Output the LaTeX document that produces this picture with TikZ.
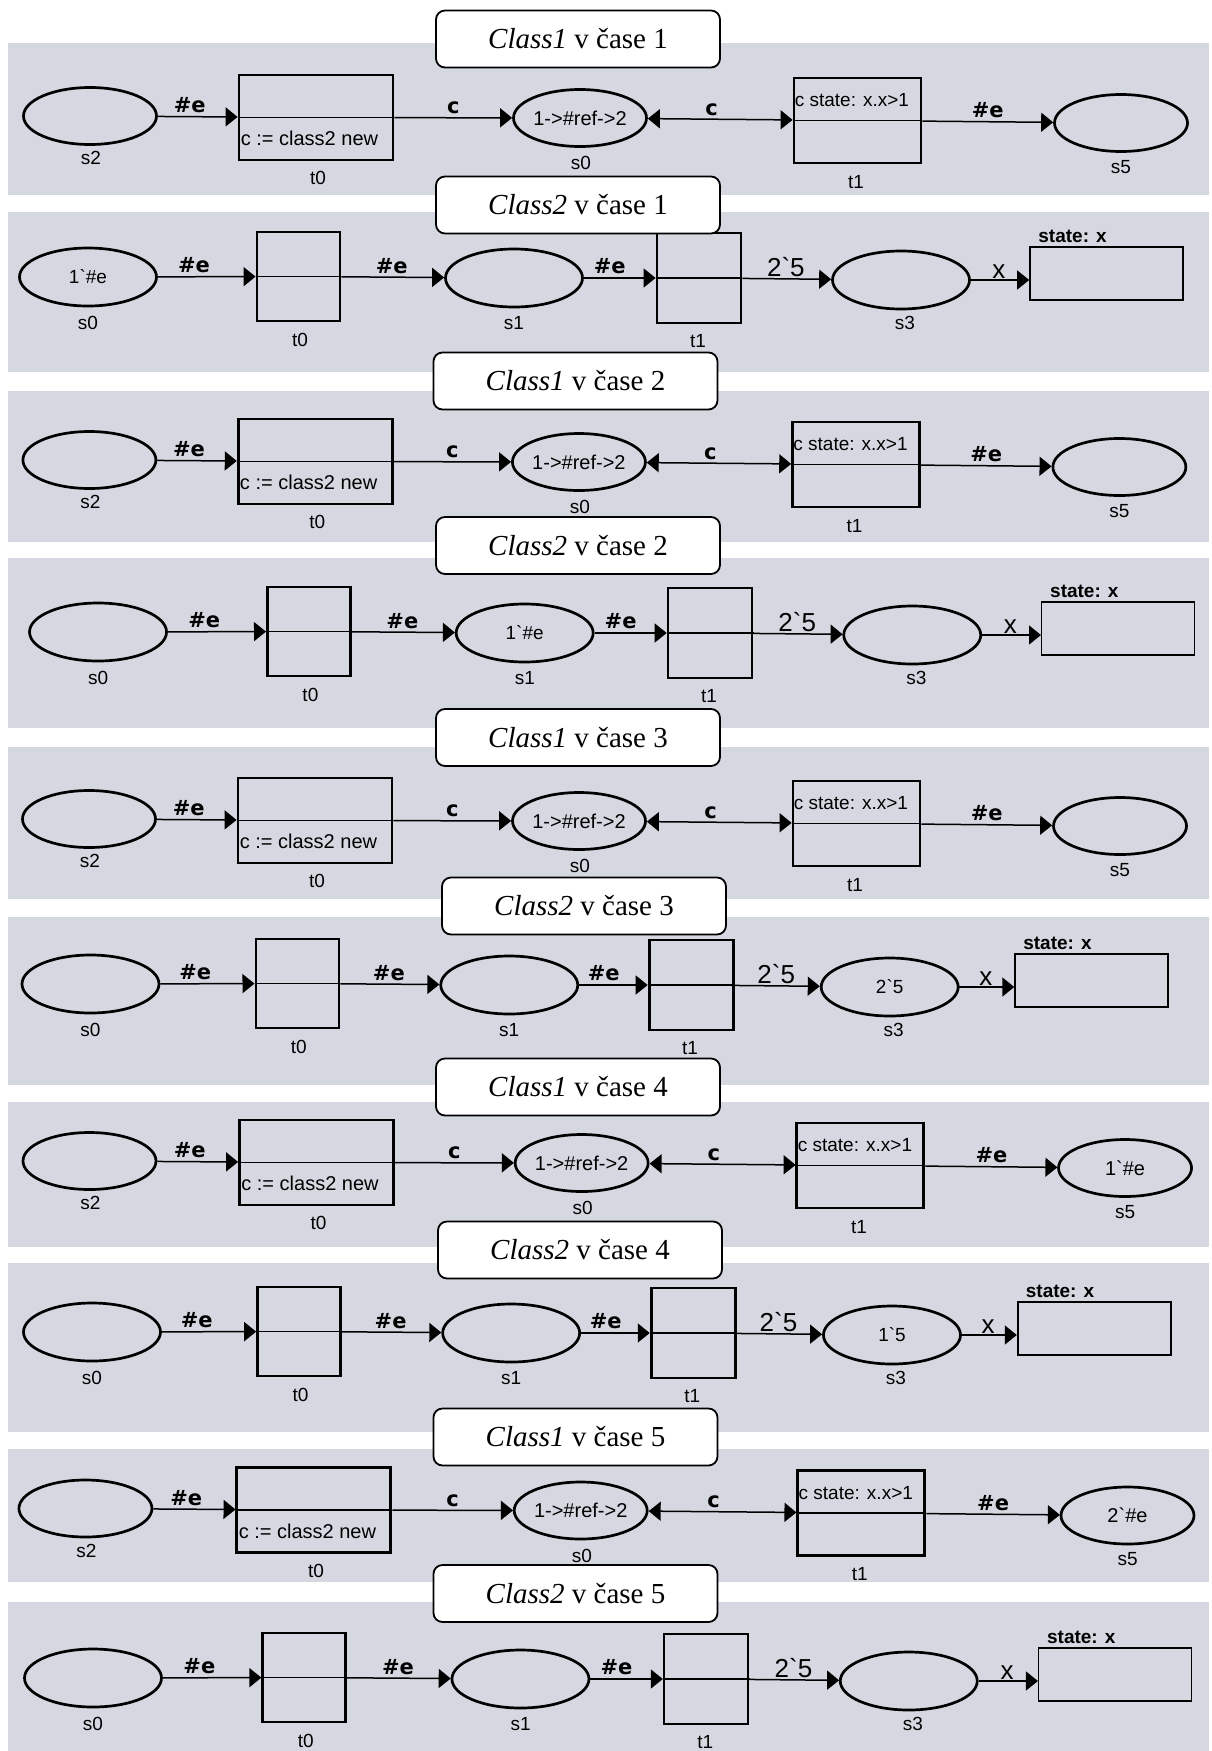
\documentclass[tikz,border=0pt]{standalone}
\usepackage{fontspec}
\setmainfont{Liberation Serif}
\newfontfamily\sansf{Liberation Sans}
\newfontfamily\djf{DejaVu Sans}
\usetikzlibrary{shapes.geometric,arrows.meta,calc}
\definecolor{panelgray}{RGB}{213,216,224}
\tikzset{
  pl/.style={ellipse,draw,line width=2.7pt,minimum width=133pt,minimum height=57pt,inner sep=0pt,font=\sansf\fontsize{20}{20}\selectfont},
  plB/.style={pl,minimum width=137pt,minimum height=58pt,font=\sansf\fontsize{19}{19}\selectfont},
  tr/.style={rectangle,draw,line width=2.8pt,inner sep=0pt},
  stbox/.style={rectangle,draw,line width=1.6pt,inner sep=0pt},
  midl/.style={line width=1.4pt},
  conn/.style={line width=1.5pt,-{Triangle[length=12pt,width=19pt]}},
  biconn/.style={line width=1.5pt,{Triangle[length=12pt,width=19pt]}-{Triangle[length=12pt,width=19pt]}},
  nm/.style={font=\sansf\fontsize{19}{19}\selectfont,inner sep=0pt},
  intxt/.style={inner sep=0pt,anchor=west},
  lab/.style={font=\djf\bfseries\fontsize{21}{21}\selectfont,inner sep=0pt,above=3pt},
  labn/.style={font=\sansf\fontsize{26}{26}\selectfont,inner sep=0pt,above=1pt},
  stl/.style={font=\sansf\bfseries\fontsize{19}{19}\selectfont,inner sep=0pt,anchor=base west},
  ttl/.style={draw,line width=1.8pt,fill=white,rounded corners=9pt,minimum width=284pt,minimum height=57pt,inner sep=0pt,font=\fontsize{29}{29}\selectfont}
}
% #1 id, #2 xshift, #3 xscale, #4 yshift, #5 token of s5
\newcommand{\classone}[5]{%
\begin{scope}[shift={(#2,#4)},xscale=#3]
  \node[pl] (#1s2) at (90,116) {};
  \node[tr,minimum width=154pt,minimum height=85pt] (#1t0) at (316,117.5) {};
  \node[pl] (#1s0) at (580,118) {1->\#ref->2};
  \node[tr,minimum width=127pt,minimum height=85pt] (#1t1) at (857.5,120.5) {};
  \node[pl] (#1s5) at (1121,123) {#5};
  \draw[midl] (#1t0.west) -- (#1t0.east);
  \draw[midl] (#1t1.west) -- (#1t1.east);
  \node[intxt,font=\sansf\fontsize{20}{20}\selectfont] (#1t0txt) at ($(#1t0.west)+(3,21)$) {c := class2 new};
  \node[intxt,font=\sansf\fontsize{19}{19}\selectfont] (#1t1txt) at ($(#1t1.west)+(2,-20)$) {c state: x.x>1};
  \node[nm] (#1s2l) at ($(#1s2)+(1,42)$) {s2};
  \node[nm] (#1t0l) at ($(#1t0)+(2,60.5)$) {t0};
  \node[nm] (#1s0l) at ($(#1s0)+(1,45)$) {s0};
  \node[nm] (#1t1l) at ($(#1t1)+(-1.5,61.5)$) {t1};
  \node[nm] (#1s5l) at ($(#1s5)+(0,44)$) {s5};
  \draw[conn] (#1s2) -- node[lab,pos=0.40] {\#e} (#1t0);
  \draw[conn] (#1t0) -- node[lab,pos=0.5] {c} (#1s0);
  \draw[biconn] (#1s0) -- node[lab,pos=0.44] {c} (#1t1);
  \draw[conn] (#1t1) -- node[lab,pos=0.5] {\#e} (#1s5);
\end{scope}}
% #1 id, #2 xshift, #3 xscale, #4 yshift, #5 s0 token, #6 s1 token, #7 s3 token
\newcommand{\classtwo}[7]{%
\begin{scope}[shift={(#2,#4)},xscale=#3]
  \node[plB] (#1s0) at (88,277) {#5};
  \node[tr,minimum width=83pt,minimum height=89pt] (#1t0) at (298.5,276.5) {};
  \node[plB] (#1s1) at (514,278) {#6};
  \node[tr,minimum width=84pt,minimum height=90pt] (#1t1) at (699,278) {};
  \node[plB] (#1s3) at (901,280) {#7};
  \node[stbox,minimum width=153pt,minimum height=53pt] (#1st) at (1106.5,273.5) {};
  \draw[midl] (#1t0.west) -- (#1t0.east);
  \draw[midl] (#1t1.west) -- (#1t1.east);
  \node[nm] (#1s0l) at ($(#1s0)+(0,46)$) {s0};
  \node[nm] (#1t0l) at ($(#1t0)+(1.5,63)$) {t0};
  \node[nm] (#1s1l) at ($(#1s1)+(0,45)$) {s1};
  \node[nm] (#1t1l) at ($(#1t1)+(-1,63)$) {t1};
  \node[nm] (#1s3l) at ($(#1s3)+(4,43)$) {s3};
  \node[stl] (#1stl) at ($(#1st.north west)+(9,-4)$) {state: x};
  \draw[conn] (#1s0) -- node[lab,pos=0.37] {\#e} (#1t0);
  \draw[conn] (#1t0) -- node[lab,pos=0.49] {\#e} (#1s1);
  \draw[conn] (#1s1) -- node[lab,pos=0.36] {\#e} (#1t1);
  \draw[conn] (#1t1) -- node[labn,pos=0.49] {2\textasciigrave 5} (#1s3);
  \draw[conn] (#1s3) -- node[labn,pos=0.48] {x} (#1s3 -| #1st.west);
\end{scope}}
\begin{document}
\begin{tikzpicture}[x=1pt,y=-1pt]
  \fill[white] (0,0) rectangle (1212,1751);
  \useasboundingbox (0,0) rectangle (1212,1751);
  % panels background
  \fill[panelgray] (8,43) rectangle (1209,195);
  \fill[panelgray] (8,212) rectangle (1209,372);
  \fill[panelgray] (8,391) rectangle (1209,542);
  \fill[panelgray] (8,558) rectangle (1209,728);
  \fill[panelgray] (8,747) rectangle (1209,899);
  \fill[panelgray] (8,917) rectangle (1209,1085);
  \fill[panelgray] (8,1102) rectangle (1209,1247);
  \fill[panelgray] (8,1263) rectangle (1209,1432);
  \fill[panelgray] (8,1449) rectangle (1209,1582);
  \fill[panelgray] (8,1602) rectangle (1209,1751);
  % nets
  \classone{a}{0}{1}{0}{}
  \classtwo{b}{0}{1}{0}{1\textasciigrave\#e}{}{}
  \classone{c}{-0.5}{0.999}{344}{}
  \classtwo{d}{9.9}{1.0015}{355}{}{1\textasciigrave\#e}{}
  \classone{e}{-1}{1}{703}{}
  \classtwo{f}{4}{0.983}{707}{}{}{2\textasciigrave 5}
  \classone{g}{-0.9}{1.0044}{1045}{1\textasciigrave\#e}
  \classtwo{h}{5.4}{0.984}{1055}{}{}{1\textasciigrave 5}
  \classone{i}{-5.5}{1.0107}{1392.5}{2\textasciigrave\#e}
  \classtwo{j}{4.7}{1.0034}{1401}{}{}{}
  % titles
  \node[ttl] (T1) at (578,39) {\textit{Class1} v čase 1};
  \node[ttl] (T2) at (578,205) {\textit{Class2} v čase 1};
  \node[ttl] (T3) at (575.5,381) {\textit{Class1} v čase 2};
  \node[ttl] (T4) at (578,545.5) {\textit{Class2} v čase 2};
  \node[ttl] (T5) at (578,737.5) {\textit{Class1} v čase 3};
  \node[ttl] (T6) at (584,906) {\textit{Class2} v čase 3};
  \node[ttl] (T7) at (578,1087) {\textit{Class1} v čase 4};
  \node[ttl] (T8) at (580,1250) {\textit{Class2} v čase 4};
  \node[ttl] (T9) at (575.5,1437) {\textit{Class1} v čase 5};
  \node[ttl] (T10) at (575.5,1593.5) {\textit{Class2} v čase 5};
\end{tikzpicture}
\end{document}
